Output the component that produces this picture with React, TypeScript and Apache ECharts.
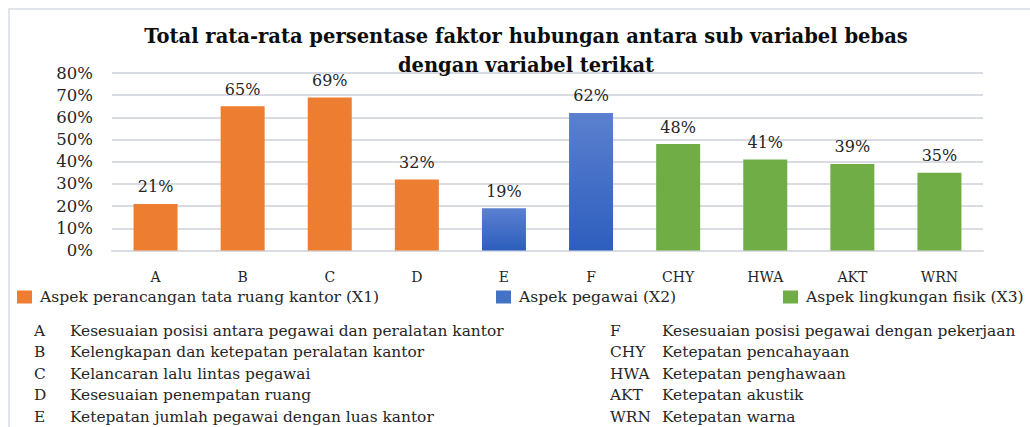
import React, { useEffect, useRef } from "react";
import * as echarts from "echarts";

const categories = ["A", "B", "C", "D", "E", "F", "CHY", "HWA", "AKT", "WRN"];
const values = [21, 65, 69, 32, 19, 62, 48, 41, 39, 35];
const groupOf = [0, 0, 0, 0, 1, 1, 2, 2, 2, 2];
const groupNames = [
  "Aspek perancangan tata ruang kantor (X1)",
  "Aspek pegawai (X2)",
  "Aspek lingkungan fisik (X3)",
];
const yMax = 80;
const yInterval = 10;

const leftCodes = ["A", "B", "C", "D", "E"];
const leftDescs = [
  "Kesesuaian posisi antara pegawai dan peralatan kantor",
  "Kelengkapan dan ketepatan peralatan kantor",
  "Kelancaran lalu lintas pegawai",
  "Kesesuaian penempatan ruang",
  "Ketepatan jumlah pegawai dengan luas kantor",
];
const rightCodes = ["F", "CHY", "HWA", "AKT", "WRN"];
const rightDescs = [
  "Kesesuaian posisi pegawai dengan pekerjaan",
  "Ketepatan pencahayaan",
  "Ketepatan penghawaan",
  "Ketepatan akustik",
  "Ketepatan warna",
];

const titleText = "Total rata-rata persentase faktor hubungan antara sub variabel bebas\ndengan variabel terikat";

const FONT = "DejaVu Serif";
const TXT = "#262626";

export default function App() {
  const ref = useRef<HTMLDivElement>(null);
  useEffect(() => {
    document.body.style.margin = "0";
    const chart = echarts.init(ref.current!, undefined, { renderer: "svg" });
    const colors: any[] = [
      "#ED7D31",
      new echarts.graphic.LinearGradient(0, 0, 0, 1, [
        { offset: 0, color: "#5B80CF" },
        { offset: 1, color: "#2D5EBE" },
      ]),
      "#70AD47",
    ];
    const legendColors = ["#ED7D31", "#4472C4", "#70AD47"];
    const legendLeft = [17, 496, 783];

    const series = groupNames.map((name, g) => ({
      name,
      type: "bar",
      stack: "all",
      barWidth: 44,
      itemStyle: { color: colors[g] },
      label: {
        show: true,
        position: "top",
        distance: 9,
        formatter: "{c}%",
        fontFamily: FONT,
        fontSize: 16,
        color: TXT,
      },
      data: values.map((v, i) => (groupOf[i] === g ? v : "-")),
    }));

    const lineH = 21.6;
    const DF = `15.4px "${FONT}"`;
    const graphics: any[] = [];
    const mk = (x: number, y: number, text: string) => ({
      type: "text",
      x,
      y,
      style: { text, font: DF, fill: TXT, verticalAlign: "middle", lineHeight: 17 },
    });
    leftCodes.forEach((c, i) => {
      const y = 330.5 + i * lineH;
      graphics.push(mk(34, y, c));
      graphics.push(mk(70, y, leftDescs[i]));
    });
    rightCodes.forEach((c, i) => {
      const y = 330.5 + i * lineH;
      graphics.push(mk(610, y, c));
      graphics.push(mk(662, y, rightDescs[i]));
    });
    graphics.push({
      type: "polyline",
      shape: { points: [[9, 427], [9, 9], [1030, 9]] },
      style: { stroke: "#E1E4E9", lineWidth: 2, fill: null },
      silent: true,
    });

    chart.setOption({
      animation: false,
      title: {
        text: titleText,
        left: 526,
        top: 22,
        padding: 0,
        textAlign: "center",
        textStyle: {
          fontFamily: FONT,
          fontWeight: "bold",
          fontSize: 19.5,
          lineHeight: 29,
          color: "#0D0D0D",
        },
      },
      legend: groupNames.map((name, g) => ({
        data: [{ name, itemStyle: { color: legendColors[g] } }],
        left: legendLeft[g],
        top: 289,
        padding: 0,
        icon: "rect",
        itemWidth: 15,
        itemHeight: 13,
        selectedMode: false,
        textStyle: { fontFamily: FONT, fontSize: 15.6, color: TXT, padding: [7, 0, 0, 3] },
      })),
      grid: { left: 112, right: 47, top: 73, bottom: 176.5 },
      xAxis: {
        type: "category",
        data: categories,
        axisTick: { show: false },
        axisLine: { lineStyle: { color: "#D9DDE3", width: 2 } },
        axisLabel: { fontFamily: FONT, fontSize: 14, color: TXT, margin: 19 },
      },
      yAxis: {
        type: "value",
        min: 0,
        max: yMax,
        interval: yInterval,
        axisLabel: {
          formatter: "{value}%",
          fontFamily: FONT,
          fontSize: 16.5,
          color: TXT,
          margin: 19,
          padding: [4, 0, 0, 0],
        },
        splitLine: { lineStyle: { color: "#D9DDE3", width: 2 } },
      },
      series,
      graphic: graphics,
    });
    return () => chart.dispose();
  }, []);
  return <div ref={ref} style={{ width: 1030, height: 427 }} />;
}
